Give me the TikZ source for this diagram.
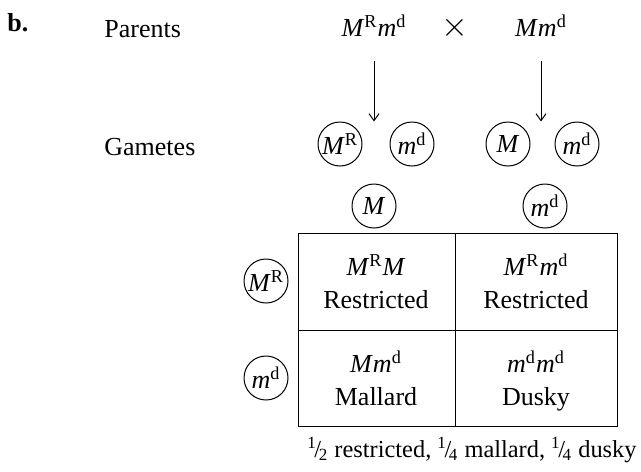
\documentclass[tikz,border=0pt]{standalone}
\usepackage{fontspec}
\setmainfont{Liberation Serif}
\usetikzlibrary{arrows.meta}
\newcommand{\allele}[2]{\textit{#1}\textsuperscript{#2}}
\newcommand{\frc}[2]{\textsuperscript{#1}\kern-0.1em/\kern-0.1em\textsubscript{#2}}

\begin{document}
\begin{tikzpicture}[x=0.5pt, y=-0.5pt, every node/.style={font=\fontsize{13}{16.5}\selectfont}, >={Straight Barb[length=3.5pt,width=5pt]}, lbl/.style={anchor=base west, inner sep=0pt}, gam/.style={draw, circle, minimum size=22pt, inner sep=0pt, line width=0.5pt}, cell/.style={align=center}]
	\useasboundingbox (0,0) rectangle (641,471);
	\node[lbl, font=\fontsize{13}{16.5}\selectfont\bfseries] (part) at (7,32) {b.};
	\node[lbl] (parents) at (104,37) {Parents};
	\node[anchor=base] (p1) at (374,36) {\allele{M}{R}\allele{m}{d}};
	\node[anchor=base, font=\fontsize{17}{20}\selectfont] (cross) at (455,36) {$\times$};
	\node[anchor=base] (p2) at (541,36) {\textit{M}\allele{m}{d}};
	\node[lbl] (gametes) at (104,155) {Gametes};
	\node[gam] (g1) at (340,144) {\allele{M}{R}};
	\node[gam] (g2) at (412,144) {\allele{m}{d}};
	\node[gam] (g3) at (508,144) {\textit{M}};
	\node[gam] (g4) at (577,144) {\allele{m}{d}};
	\draw[->, line width=0.5pt, shorten <=9pt] (p1.south) -- (p1.south |- g1.north);
	\draw[->, line width=0.5pt, shorten <=9pt] (p2.south) -- (p2.south |- g3.north);
	% Punnett square
	\node[gam] (col1) at (374,206) {\textit{M}};
	\node[gam] (col2) at (545,206) {\allele{m}{d}};
	\node[gam] (row1) at (266,281) {\allele{M}{R}};
	\node[gam] (row2) at (266,378) {\allele{m}{d}};
	\draw[line width=0.5pt] (298,233) rectangle (617,426) (455,233) -- (455,426) (298,330) -- (617,330);
	\node[cell] (c11) at (376,285) {\allele{M}{R}\textit{M}\strut\\Restricted\strut};
	\node[cell] (c12) at (536,285) {\allele{M}{R}\allele{m}{d}\strut\\Restricted\strut};
	\node[cell] (c21) at (376,382) {\textit{M}\allele{m}{d}\strut\\Mallard\strut};
	\node[cell] (c22) at (536,382) {\allele{m}{d}\allele{m}{d}\strut\\Dusky\strut};
	\node[anchor=base, font=\fontsize{12.2}{15}\selectfont] (ratio) at (472,457) {\frc{1}{2} restricted, \frc{1}{4} mallard, \frc{1}{4} dusky};
\end{tikzpicture}
\end{document}
